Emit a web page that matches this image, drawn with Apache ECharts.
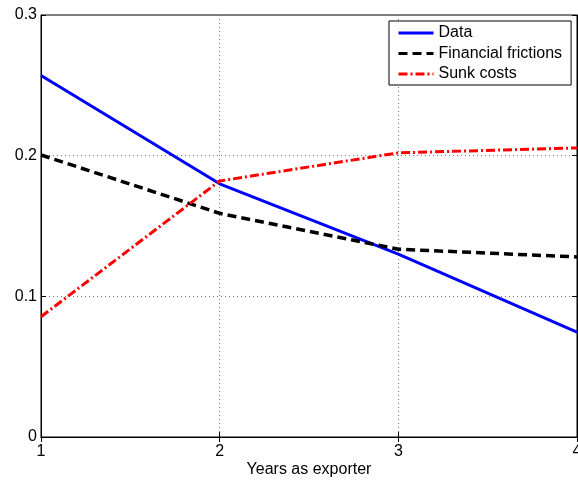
<!DOCTYPE html>
<html>
<head>
<meta charset="utf-8">
<script src="https://cdn.jsdelivr.net/npm/echarts@6/dist/echarts.min.js"></script>
<style>
  html, body { margin: 0; padding: 0; background: #fff; }
  #chart { width: 578px; height: 483px; }
</style>
</head>
<body>
<div id="chart"></div>
<script>
// Years since entering the export market
const years = [1, 2, 3, 4];
// Observed and model-implied values by year
const dataSeries = [0.257, 0.180, 0.130, 0.0745];
const financialFrictions = [0.2005, 0.159, 0.1335, 0.128];
const sunkCosts = [0.0855, 0.182, 0.202, 0.2055];
// Axis ticks
const xTicks = [1, 2, 3, 4];
const yTicks = [0, 0.1, 0.2, 0.3];

const FONT = 'Liberation Sans';
const FONT_SIZE = 16;

function pairs(xs, ys) {
  return xs.map((x, i) => [x, ys[i]]);
}

const chart = echarts.init(document.getElementById('chart'), null, { renderer: 'canvas' });

const tickInside = { show: true, inside: true, length: 5, lineStyle: { color: '#000', width: 1 } };
const dotted = { show: true, lineStyle: { color: '#777', type: [1, 3], width: 1 } };

chart.setOption({
  animation: false,
  backgroundColor: '#fff',
  grid: {
    left: 41, right: 1, top: 15, bottom: 46,
    outerBoundsMode: 'none', containLabel: false,
    show: true, borderColor: '#000', borderWidth: 1, backgroundColor: 'transparent'
  },
  legend: {
    orient: 'vertical',
    left: 389, top: 21,
    padding: [4, 9, 3, 8],
    itemWidth: 35, itemHeight: 16, itemGap: 4.5,
    backgroundColor: '#fff',
    borderColor: '#000', borderWidth: 1, borderRadius: 0,
    itemStyle: { opacity: 0 },
    lineStyle: { width: 3 },
    textStyle: { fontFamily: FONT, fontSize: FONT_SIZE, color: '#000' },
    data: ['Data', 'Financial frictions', 'Sunk costs']
  },
  xAxis: [
    {
      type: 'value', min: xTicks[0], max: xTicks[xTicks.length - 1], interval: 1,
      name: 'Years as exporter', nameLocation: 'middle', nameGap: 25,
      nameMoveOverlap: false,
      nameTextStyle: { fontFamily: FONT, fontSize: FONT_SIZE, color: '#000' },
      axisLine: { show: true, onZero: false, lineStyle: { color: '#000', width: 1 } },
      axisTick: tickInside,
      axisLabel: { fontFamily: FONT, fontSize: FONT_SIZE, color: '#000', margin: 7 },
      splitLine: dotted
    },
    {
      type: 'value', position: 'top', min: xTicks[0], max: xTicks[xTicks.length - 1], interval: 1,
      axisLine: { show: true, lineStyle: { color: '#000', width: 1 } },
      axisTick: tickInside, axisLabel: { show: false }, splitLine: { show: false }
    }
  ],
  yAxis: [
    {
      type: 'value', min: yTicks[0], max: yTicks[yTicks.length - 1], interval: 0.1,
      axisLine: { show: true, onZero: false, lineStyle: { color: '#000', width: 1 } },
      axisTick: tickInside,
      axisLabel: {
        fontFamily: FONT, fontSize: FONT_SIZE, color: '#000', margin: 4,
        formatter: v => {
          const t = yTicks.find(y => Math.abs(y - v) < 1e-9);
          return t === 0 ? '0' : (t !== undefined ? t.toFixed(1) : '');
        }
      },
      splitLine: dotted
    },
    {
      type: 'value', position: 'right', min: yTicks[0], max: yTicks[yTicks.length - 1], interval: 0.1,
      axisLine: { show: true, lineStyle: { color: '#000', width: 1 } },
      axisTick: tickInside, axisLabel: { show: false }, splitLine: { show: false }
    }
  ],
  series: [
    {
      name: 'Data', type: 'line', symbol: 'none',
      data: pairs(years, dataSeries),
      lineStyle: { color: '#0000ff', width: 3 },
      itemStyle: { color: '#0000ff' }
    },
    {
      name: 'Financial frictions', type: 'line', symbol: 'none',
      data: pairs(years, financialFrictions),
      lineStyle: { color: '#000', width: 3.5, type: [9, 5] },
      itemStyle: { color: '#000' }
    },
    {
      name: 'Sunk costs', type: 'line', symbol: 'none',
      data: pairs(years, sunkCosts),
      lineStyle: { color: '#ff0000', width: 3, type: [9, 3, 2, 3] },
      itemStyle: { color: '#ff0000' }
    }
  ]
});
</script>
</body>
</html>
